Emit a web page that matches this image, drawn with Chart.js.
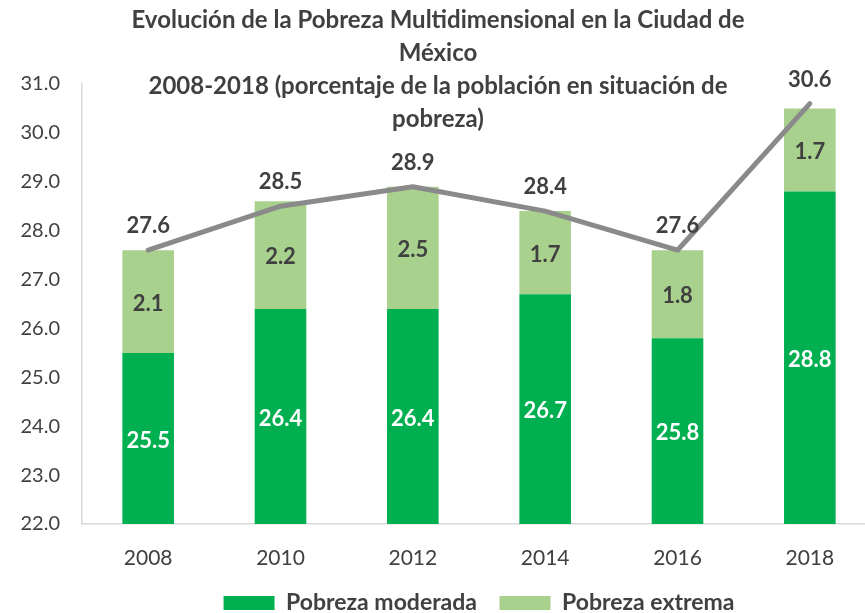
<!DOCTYPE html>
<html>
<head>
<meta charset="utf-8">
<script src="https://cdn.jsdelivr.net/npm/chart.js@4/dist/chart.umd.min.js"></script>
<style>
html,body{margin:0;padding:0;background:#fff;overflow:hidden;}
#wrap{width:876px;height:613px;}
</style>
</head>
<body>
<div id="wrap"><canvas id="c" width="876" height="613"></canvas></div>
<script>
const years = ['2008', '2010', '2012', '2014', '2016', '2018'];
const moderada = [25.5, 26.4, 26.4, 26.7, 25.8, 28.8];
const extrema = [2.1, 2.2, 2.5, 1.7, 1.8, 1.7];
const total = [27.6, 28.5, 28.9, 28.4, 27.6, 30.6];
const titleLines = [
  'Evolución de la Pobreza Multidimensional en la Ciudad de',
  'México',
  '2008-2018 (porcentaje de la población en situación de',
  'pobreza)'
];
const seriesNames = ['Pobreza moderada', 'Pobreza extrema', 'Total'];

const TXT = '#404040';
const FONT = 'Lato, "Open Sans", sans-serif';

const valueLabels = {
  id: 'valueLabels',
  afterDatasetsDraw(chart) {
    const ctx = chart.ctx;
    const area = chart.chartArea;
    ctx.save();
    ctx.textAlign = 'center';
    ctx.textBaseline = 'middle';
    chart.data.datasets.forEach((ds, di) => {
      const meta = chart.getDatasetMeta(di);
      meta.data.forEach((el, i) => {
        const v = ds.data[i];
        const txt = v.toFixed(1);
        ctx.font = 'bold 22px ' + FONT;
        if (ds.type === 'line') {
          ctx.fillStyle = TXT;
          ctx.fillText(txt, el.x, el.y - 24);
        } else {
          const top = Math.min(el.y, el.base);
          const bot = Math.min(Math.max(el.y, el.base), area.bottom);
          ctx.fillStyle = di === 0 ? '#ffffff' : TXT;
          ctx.fillText(txt, el.x, (top + bot) / 2 + 2);
        }
      });
    });
    ctx.restore();
  }
};

new Chart(document.getElementById('c'), {
  type: 'bar',
  data: {
    labels: years,
    datasets: [
      {
        label: seriesNames[0],
        data: moderada,
        backgroundColor: '#00B050',
        stack: 'pob',
        order: 2,
        barPercentage: 0.39,
        categoryPercentage: 1.0
      },
      {
        label: seriesNames[1],
        data: extrema,
        backgroundColor: '#A9D18E',
        stack: 'pob',
        order: 2,
        barPercentage: 0.39,
        categoryPercentage: 1.0
      },
      {
        type: 'line',
        label: seriesNames[2],
        data: total,
        stack: 'tot',
        order: 0,
        borderColor: '#8A8A8A',
        backgroundColor: '#8A8A8A',
        borderWidth: 5,
        borderCapStyle: 'round',
        borderJoinStyle: 'round',
        pointRadius: 0,
        pointHoverRadius: 0,
        tension: 0,
        fill: false
      }
    ]
  },
  options: {
    responsive: false,
    animation: false,
    events: [],
    layout: { padding: 0 },
    scales: {
      x: {
        stacked: true,
        grid: { display: false, drawTicks: false },
        border: { color: '#D9D9D9', width: 1.5 },
        ticks: { color: TXT, font: { family: FONT, size: 21, lineHeight: 1 }, padding: 24 },
        afterFit(scale) { scale.height = 45; }
      },
      y: {
        stacked: true,
        min: 22,
        max: 31,
        grid: { display: false, drawTicks: false },
        border: { color: '#D9D9D9', width: 1.5 },
        ticks: {
          stepSize: 1,
          color: TXT,
          padding: 22,
          font: { family: FONT, size: 20 },
          callback: v => Number(v).toFixed(1)
        },
        afterFit(scale) { scale.width = 82; }
      }
    },
    plugins: {
      title: {
        display: true,
        text: titleLines,
        color: TXT,
        font: { family: FONT, size: 24, weight: 'bold', lineHeight: 1.375 },
        padding: { top: 4, bottom: -52 }
      },
      legend: {
        display: true,
        position: 'bottom',
        fullSize: false,
        maxHeight: 44,
        labels: {
          color: TXT,
          font: { family: FONT, size: 23, weight: 'bold' },
          boxWidth: 51,
          boxHeight: 14,
          padding: 22.5,
          filter: item => item.datasetIndex < 2
        }
      },
      tooltip: { enabled: false }
    }
  },
  plugins: [valueLabels]
});
</script>
</body>
</html>
